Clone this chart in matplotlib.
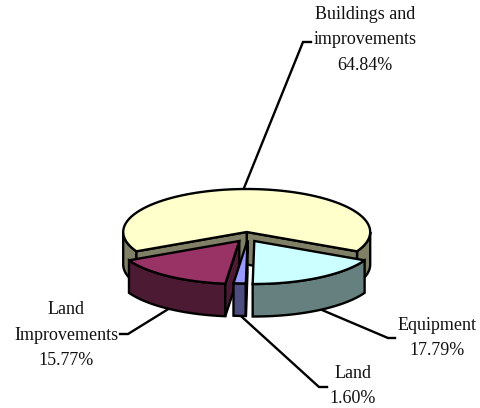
import numpy as np
import matplotlib
matplotlib.use("Agg")
import matplotlib.pyplot as plt
from matplotlib.patches import Polygon

categories = ["Buildings and\nimprovements", "Equipment", "Land", "Land\nImprovements"]
values = [64.84, 17.79, 1.60, 15.77]
top_colors = ["#FFFFCC", "#CCFFFF", "#9999FF", "#993366"]
wall_colors = ["#808066", "#668080", "#4D4D80", "#4D1A33"]
apex_px = [(246.7, 232.0), (254.3, 241.0), (247.5, 240.5), (239.3, 241.0)]

RX, RY, DEPTH = 123.5, 43.0, 32.5
LW = 1.7

fig = plt.figure(figsize=(4.81, 4.08), dpi=100)
ax = fig.add_axes([0, 0, 1, 1])
ax.set_xlim(0, 481)
ax.set_ylim(408, 0)
ax.axis("off")

# Buildings is centred on the back of the pie; the others follow it clockwise
start = 90 + 360 * values[0] / 100 / 2
bounds = [(start - 360 * values[0] / 100, start)]
b = bounds[0][0]
for v in values[1:]:
    bounds.append((b - 360 * v / 100, b))
    b -= 360 * v / 100


def pt(c, ang):
    t = np.radians(ang)
    return np.array([c[0] + RX * np.cos(t), c[1] - RY * np.sin(t)])


def arc(c, a0, a1, n=80):
    t = np.radians(np.linspace(a0, a1, n))
    return np.column_stack([c[0] + RX * np.cos(t), c[1] - RY * np.sin(t)])


def poly(xy, fc, z):
    ax.add_patch(Polygon(xy, closed=True, fc=fc, ec="black", lw=LW, joinstyle="miter", zorder=z))


def draw_slice(i, z):
    c = np.array(apex_px[i])
    lo, hi = bounds[i]
    d = np.array([0, DEPTH])
    # outer rim: only the part that faces the viewer
    for a0, a1 in [(lo, hi), (lo + 360, hi + 360), (lo - 360, hi - 360)]:
        s, e = max(a0, 180), min(a1, 360)
        if e > s:
            r = arc(c, s, e)
            poly(np.vstack([r, r[::-1] + d]), wall_colors[i], z)
    # radial cut faces, only when they face the viewer
    if np.cos(np.radians(lo)) > 0:
        p = pt(c, lo)
        poly([c, p, p + d, c + d], wall_colors[i], z + 0.1)
    if np.cos(np.radians(hi)) < 0:
        p = pt(c, hi)
        poly([c, p, p + d, c + d], wall_colors[i], z + 0.1)
    poly(np.vstack([[c], arc(c, lo, hi)]), top_colors[i], z + 0.2)


for i, z in [(0, 1), (3, 2), (2, 3), (1, 4)]:
    draw_slice(i, z)

leaders = {
    0: [(244, 188), (303, 42), (311, 42)],
    1: [(322, 310), (388, 338), (395, 338)],
    2: [(242, 317), (319, 387), (327, 387)],
    3: [(170, 308), (128, 334), (120, 334)],
}
for pts in leaders.values():
    xs, ys = zip(*pts)
    ax.plot(xs, ys, color="black", lw=LW, zorder=0.5, solid_joinstyle="miter")

label_pos = [(365, 40), (437, 338), (353, 386), (66, 335)]
for name, v, (x, y) in zip(categories, values, label_pos):
    ax.text(x, y, f"{name}\n{v:.2f}%", ha="center", va="center", family="Liberation Serif",
            fontsize=13, linespacing=1.62, color="#111111", zorder=7)

fig.savefig("out.png", dpi=100)
